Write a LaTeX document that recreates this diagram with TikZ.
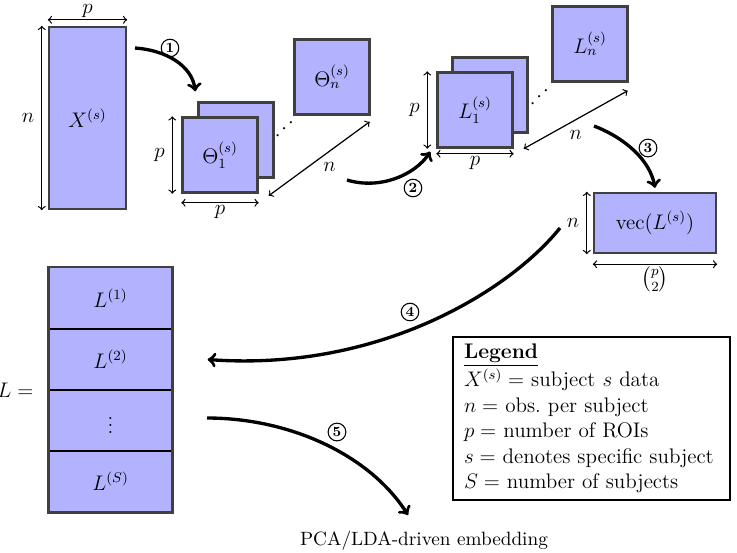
\documentclass[tikz,border=0pt,12pt]{standalone}
\usepackage{amsmath,amssymb}
\usetikzlibrary{arrows,positioning,calc}

\begin{document}
\begin{tikzpicture}[
    x=0.02cm, y=-0.02cm,
    mat/.style={rectangle, draw=black!75, fill=blue!30, line width=1.4pt, inner sep=0pt},
    sqmat/.style={mat, minimum width=1.5cm, minimum height=1.5cm},
    cell/.style={rectangle, draw=black, fill=blue!30, line width=0.8pt,
                 minimum width=2.46cm, minimum height=1.22cm},
    dim/.style={<->, >=to, line width=0.7pt},
    flow/.style={->, >=to, line width=1.9pt},
    stepnum/.style={circle, draw, line width=0.6pt, inner sep=1pt, font=\scriptsize\bfseries}
]
\useasboundingbox (0,0) rectangle (737,552);

% Data matrix
\node[mat, minimum width=1.54cm, minimum height=3.64cm] (X) at (87.5,118) {$X^{(s)}$};
\draw[dim] ([shift={(0,-6)}]X.north west) -- ([shift={(0,-6)}]X.north east) node[midway, above, inner sep=1pt] {$p$};
\draw[dim] ([shift={(-6,0)}]X.north west) -- ([shift={(-6,0)}]X.south west) node[midway, left] {$n$};

% Covariance stack
\node[sqmat] (Thb) at (236,140) {};
\node[sqmat] (Th1) at (220,155) {$\Theta_1^{(s)}$};
\node[sqmat] (Thn) at (332,77) {$\Theta_n^{(s)}$};
\node[rotate=45, inner sep=0pt] (Thdots) at (286,128) {$\cdots$};
\draw[dim] ([shift={(-9,0)}]Th1.north west) -- ([shift={(-9,0)}]Th1.south west) node[midway, left] {$p$};
\draw[dim] ([shift={(0,9)}]Th1.south west) -- ([shift={(0,9)}]Th1.south east) node[midway, below, inner sep=1pt] {$p$};
\draw[dim] ([shift={(10,2)}]Th1.south east) -- ([shift={(-1,6)}]Thn.south east) node[midway, below right, inner sep=2pt] {$n$};

% Tangent stack
\node[sqmat] (Lb) at (490,95) {};
\node[sqmat] (L1) at (475,110) {$L_1^{(s)}$};
\node[sqmat] (Ln) at (590,44) {$L_n^{(s)}$};
\node[rotate=45, inner sep=0pt] (Ldots) at (541,96) {$\cdots$};
\draw[dim] ([shift={(-9,0)}]L1.north west) -- ([shift={(-9,0)}]L1.south west) node[midway, left] {$p$};
\draw[dim] ([shift={(0,5)}]L1.south west) -- ([shift={(0,5)}]L1.south east) node[midway, below, inner sep=1pt] {$p$};
\draw[dim] ([shift={(10,0)}]L1.south east) -- ([shift={(-1,8)}]Ln.south east) node[midway, below=2pt] {$n$};

% Vectorised
\node[mat, minimum width=2.44cm, minimum height=1.2cm] (vecL) at (655,223) {$\mathrm{vec}(L^{(s)})$};
\draw[dim] ([shift={(-6,0)}]vecL.north west) -- ([shift={(-6,0)}]vecL.south west) node[midway, left] {$n$};
\draw[dim] ([shift={(0,10)}]vecL.south west) -- ([shift={(0,10)}]vecL.south east) node[midway, below, inner sep=1pt] {$\binom{p}{2}$};

% Group matrix
\node[cell] (Lc1) at (110.5,298) {$L^{(1)}$};
\node[cell] (Lc2) at (110.5,359.5) {$L^{(2)}$};
\node[cell] (Lc3) at (110.5,420.5) {$\vdots$};
\node[cell] (Lc4) at (110.5,481.5) {$L^{(S)}$};
\draw[draw=black!75, line width=1.4pt] (Lc1.north west) rectangle (Lc4.south east);
\node[left=0.15cm of Lc2.south west] (Leq) {$L =$};

% Steps
\coordinate (a1) at (135,48);
\coordinate (a2) at (347,180);
\coordinate (a3) at (594,126);
\coordinate (a4) at (560,228);
\coordinate (a5) at (207,418);
\coordinate (e5) at (408,515);
\node (emb) at (424,541) {\small PCA/LDA-driven embedding};

\draw[flow] (a1) .. controls (165,50) and (192,65) .. ([shift={(-2,-10)}]Thb.north west);
\draw[flow] (a2) .. controls (380,190) and (415,175) .. ([shift={(-6,3)}]L1.south west);
\draw[flow] (a3) .. controls (625,138) and (650,160) .. ([shift={(0,-4)}]vecL.north);
\draw[flow] (a4) .. controls (510,290) and (380,372) .. ([shift={(35,0)}]Lc2.east);
\draw[flow] (a5) .. controls (290,418) and (370,455) .. (e5);

\node[stepnum] (s1) at (170,48) {1};
\node[stepnum] (s2) at (413,188) {2};
\node[stepnum] (s3) at (648,148) {3};
\node[stepnum] (s4) at (410,312) {4};
\node[stepnum] (s5) at (337,432) {5};

% Legend
\node[draw, line width=1.2pt, minimum width=5.54cm, minimum height=3.26cm,
      inner xsep=0.22cm, text width=5.1cm, align=left] (legend) at (591.5,418.5)
  {\underline{\textbf{Legend}}\\
   $X^{(s)} =$ subject $s$ data\\
   $n =$ obs.\ per subject\\
   $p =$ number of ROIs\\
   $s =$ denotes specific subject\\
   $S =$ number of subjects};

\end{tikzpicture}
\end{document}
